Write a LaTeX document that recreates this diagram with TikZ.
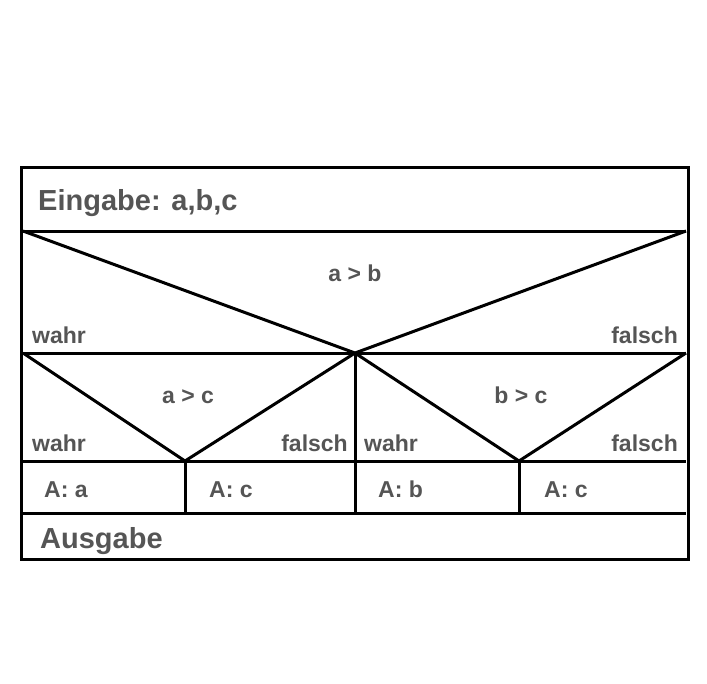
\documentclass[tikz,border=0pt]{standalone}
\usepackage{fontspec}
\setmainfont{Liberation Sans}
\definecolor{txt}{HTML}{555555}
\begin{document}
\begin{tikzpicture}[x=1pt,y=-1pt,
  struct/.style={line width=3pt,line join=miter,black},
  big/.style={inner sep=0pt,text=txt,font=\fontsize{29}{34}\selectfont\bfseries},
  small/.style={inner sep=0pt,text=txt,font=\fontsize{23}{28}\selectfont\bfseries}]
\useasboundingbox (0,0) rectangle (707,683);
% corner coordinates
\coordinate (TL) at (21,167);
\coordinate (BR) at (688,559);
\coordinate (h1l) at (23,231); \coordinate (h1r) at (686,231);
\coordinate (h2l) at (23,353); \coordinate (h2r) at (686,353);
\coordinate (h3l) at (23,461); \coordinate (h3r) at (686,461);
\coordinate (h4l) at (23,513); \coordinate (h4r) at (686,513);
\coordinate (apex) at (355,353);
\coordinate (apexL) at (185,461);
\coordinate (apexR) at (519,461);
\coordinate (midB) at (355,513);
\coordinate (lB) at (185,513);
\coordinate (rB) at (519,513);
% structure
\draw[struct] (TL) rectangle (BR);
\draw[struct] (h1l) -- (h1r);
\draw[struct] (h2l) -- (h2r);
\draw[struct] (h3l) -- (h3r);
\draw[struct] (h4l) -- (h4r);
\draw[struct] (h1l) -- (apex) -- (h1r);
\draw[struct] (h2l) -- (apexL) -- (apex);
\draw[struct] (apex) -- (apexR) -- (h2r);
\draw[struct] (apex) -- (midB);
\draw[struct] (apexL) -- (lB);
\draw[struct] (apexR) -- (rB);
% texts
\node[big,anchor=base west] (ein) at (38,210) {Eingabe: a,b,c};
\node[small,anchor=base] (c1) at (355,281) {a \textgreater{} b};
\node[small,anchor=base west] (w1) at (32,343) {wahr};
\node[small,anchor=base east] (f1) at (678,343) {falsch};
\node[small,anchor=base] (c2) at (188,403) {a \textgreater{} c};
\node[small,anchor=base west] (w2) at (32,451) {wahr};
\node[small,anchor=base east] (f2) at (348,451) {falsch};
\node[small,anchor=base] (c3) at (521,403) {b \textgreater{} c};
\node[small,anchor=base west] (w3) at (364,451) {wahr};
\node[small,anchor=base east] (f3) at (678,451) {falsch};
\node[small,anchor=base west] (o1) at (44,497) {A: a};
\node[small,anchor=base west] (o2) at (209,497) {A: c};
\node[small,anchor=base west] (o3) at (378,497) {A: b};
\node[small,anchor=base west] (o4) at (544,497) {A: c};
\node[big,anchor=base west] (aus) at (40,548) {Ausgabe};
\end{tikzpicture}
\end{document}
